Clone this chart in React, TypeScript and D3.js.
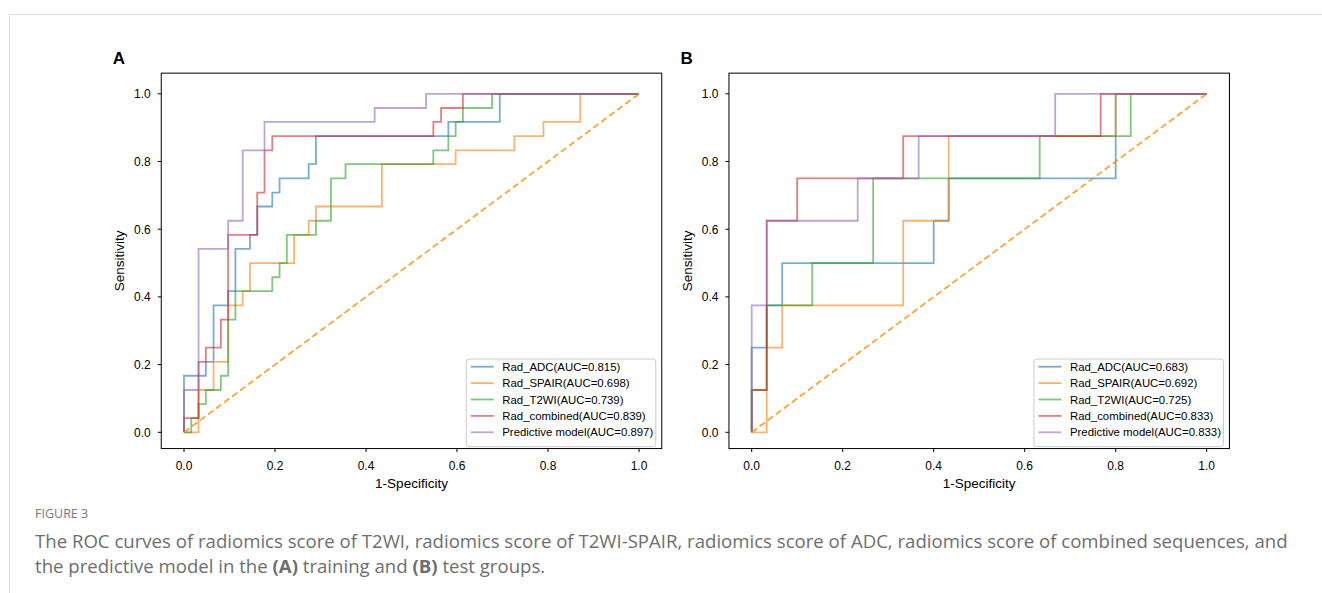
import React from 'react';
import * as d3 from 'd3';

type Pt = [number, number];

const tickValues = [0, 0.2, 0.4, 0.6, 0.8, 1.0];
const tickLabels = ['0.0', '0.2', '0.4', '0.6', '0.8', '1.0'];
const modelNames = ['Rad_ADC', 'Rad_SPAIR', 'Rad_T2WI', 'Rad_combined', 'Predictive model'];
const modelColors = ['#1f77b4', '#ff7f0e', '#2ca02c', '#d62728', '#9467bd'];
const aucTrain = ['0.815', '0.698', '0.739', '0.839', '0.897'];
const aucTest = ['0.683', '0.692', '0.725', '0.833', '0.833'];

// Training group ROC points (fpr, tpr)
const trainADC: Pt[] = [[0,0],[0,0.167],[0.048,0.167],[0.048,0.208],[0.065,0.208],[0.065,0.375],[0.097,0.375],[0.097,0.417],[0.113,0.417],[0.113,0.542],[0.145,0.542],[0.145,0.583],[0.161,0.583],[0.161,0.667],[0.194,0.667],[0.194,0.708],[0.21,0.708],[0.21,0.75],[0.274,0.75],[0.274,0.792],[0.29,0.792],[0.29,0.875],[0.581,0.875],[0.581,0.917],[0.694,0.917],[0.694,1],[1,1]];
const trainSPAIR: Pt[] = [[0,0],[0.032,0],[0.032,0.125],[0.065,0.125],[0.065,0.208],[0.097,0.208],[0.097,0.375],[0.129,0.375],[0.129,0.417],[0.145,0.417],[0.145,0.5],[0.242,0.5],[0.242,0.583],[0.274,0.583],[0.274,0.625],[0.29,0.625],[0.29,0.667],[0.435,0.667],[0.435,0.792],[0.597,0.792],[0.597,0.833],[0.726,0.833],[0.726,0.875],[0.79,0.875],[0.79,0.917],[0.871,0.917],[0.871,1],[1,1]];
const trainT2WI: Pt[] = [[0,0],[0.016,0],[0.016,0.042],[0.032,0.042],[0.032,0.083],[0.048,0.083],[0.048,0.125],[0.081,0.125],[0.081,0.167],[0.097,0.167],[0.097,0.333],[0.113,0.333],[0.113,0.417],[0.194,0.417],[0.194,0.458],[0.21,0.458],[0.21,0.5],[0.226,0.5],[0.226,0.583],[0.29,0.583],[0.29,0.625],[0.323,0.625],[0.323,0.75],[0.355,0.75],[0.355,0.792],[0.548,0.792],[0.548,0.833],[0.581,0.833],[0.581,0.875],[0.597,0.875],[0.597,0.917],[0.613,0.917],[0.613,0.958],[0.677,0.958],[0.677,1],[1,1]];
const trainCombined: Pt[] = [[0,0],[0,0.042],[0.032,0.042],[0.032,0.208],[0.048,0.208],[0.048,0.25],[0.081,0.25],[0.081,0.333],[0.097,0.333],[0.097,0.583],[0.161,0.583],[0.161,0.708],[0.177,0.708],[0.177,0.833],[0.194,0.833],[0.194,0.875],[0.548,0.875],[0.548,0.917],[0.565,0.917],[0.565,0.958],[0.613,0.958],[0.613,1],[1,1]];
const trainPredictive: Pt[] = [[0,0],[0,0.125],[0.032,0.125],[0.032,0.542],[0.097,0.542],[0.097,0.625],[0.129,0.625],[0.129,0.833],[0.177,0.833],[0.177,0.917],[0.419,0.917],[0.419,0.958],[0.532,0.958],[0.532,1],[1,1]];

// Test group ROC points (fpr, tpr)
const testADC: Pt[] = [[0,0],[0,0.25],[0.033,0.25],[0.033,0.375],[0.067,0.375],[0.067,0.5],[0.4,0.5],[0.4,0.625],[0.433,0.625],[0.433,0.75],[0.8,0.75],[0.8,1],[1,1]];
const testSPAIR: Pt[] = [[0,0],[0.033,0],[0.033,0.25],[0.067,0.25],[0.067,0.375],[0.333,0.375],[0.333,0.625],[0.433,0.625],[0.433,0.875],[0.8,0.875],[0.8,1],[1,1]];
const testT2WI: Pt[] = [[0,0],[0,0.125],[0.033,0.125],[0.033,0.375],[0.133,0.375],[0.133,0.5],[0.267,0.5],[0.267,0.75],[0.633,0.75],[0.633,0.875],[0.833,0.875],[0.833,1],[1,1]];
const testCombined: Pt[] = [[0,0],[0,0.125],[0.033,0.125],[0.033,0.625],[0.1,0.625],[0.1,0.75],[0.333,0.75],[0.333,0.875],[0.767,0.875],[0.767,1],[1,1]];
const testPredictive: Pt[] = [[0,0],[0,0.375],[0.033,0.375],[0.033,0.625],[0.233,0.625],[0.233,0.75],[0.367,0.75],[0.367,0.875],[0.667,0.875],[0.667,1],[1,1]];

const chanceLine: Pt[] = [[0, 0], [1, 1]];

const FONT = '"Liberation Sans", Arial, Helvetica, sans-serif';

interface PanelProps {
  letter: string;
  x0: number; // pixel of fpr=0
  curves: Pt[][];
  aucs: string[];
}

const Panel: React.FC<PanelProps> = ({ letter, x0, curves, aucs }) => {
  const x = d3.scaleLinear().domain([0, 1]).range([x0, x0 + 455]);
  const y = d3.scaleLinear().domain([0, 1]).range([432.3, 93.8]);
  const line = d3.line<Pt>().x(d => x(d[0])).y(d => y(d[1]));
  const fl = x(-0.05), fr = x(1.05), ft = y(1.061), fb = y(-0.048);
  const boxW = 189.5, boxH = 87.7;
  const bx = fr - 6 - boxW, by = 359;
  return (
    <g>
      <text x={fl - 48.5} y={63.5} fontFamily={FONT} fontWeight="bold" fontSize={17}>{letter}</text>
      {curves.map((c, i) => (
        <path key={i} d={line(c) || ''} fill="none" stroke={modelColors[i]} strokeOpacity={0.6} strokeWidth={1.8} />
      ))}
      <path d={line(chanceLine) || ''} fill="none" stroke="#ff8c00" strokeOpacity={0.8} strokeWidth={1.8} strokeDasharray="6.5,3.5" />
      <rect x={fl} y={ft} width={fr - fl} height={fb - ft} fill="none" stroke="#000" strokeWidth={1} />
      {tickValues.map((t, i) => (
        <g key={'x' + i}>
          <line x1={x(t)} x2={x(t)} y1={fb} y2={fb + 3.5} stroke="#000" strokeWidth={1} />
          <text x={x(t)} y={469.5} textAnchor="middle" fontFamily={FONT} fontSize={12}>{tickLabels[i]}</text>
        </g>
      ))}
      {tickValues.map((t, i) => (
        <g key={'y' + i}>
          <line x1={fl - 3.5} x2={fl} y1={y(t)} y2={y(t)} stroke="#000" strokeWidth={1} />
          <text x={fl - 10.5} y={y(t) + 4.3} textAnchor="end" fontFamily={FONT} fontSize={12}>{tickLabels[i]}</text>
        </g>
      ))}
      <text x={(fl + fr) / 2} y={487.5} textAnchor="middle" fontFamily={FONT} fontSize={13.5}>1-Specificity</text>
      <text transform={`translate(${fl - 37},${(ft + fb) / 2}) rotate(-90)`} textAnchor="middle" fontFamily={FONT} fontSize={13.5}>Sensitivity</text>
      <rect x={bx} y={by} width={boxW} height={boxH} rx={3} ry={3} fill="#fff" fillOpacity={0.8} stroke="#cccccc" strokeWidth={1} />
      {modelNames.map((n, i) => {
        const cy = 366.7 + i * 16.4;
        return (
          <g key={'l' + i}>
            <line x1={bx + 4.5} x2={bx + 27.5} y1={cy} y2={cy} stroke={modelColors[i]} strokeOpacity={0.6} strokeWidth={1.8} />
            <text x={bx + 36} y={cy + 4.1} fontFamily={FONT} fontSize={11.4}>{`${n}(AUC=${aucs[i]})`}</text>
          </g>
        );
      })}
    </g>
  );
};

const CAP_FONT = '"Open Sans", "Noto Sans", sans-serif';

export default function App() {
  return (
    <svg width={1322} height={593} style={{ position: 'absolute', left: 0, top: 0, display: 'block', background: '#fff' }}>
      <rect x={0} y={0} width={1322} height={593} fill="#fff" />
      <line x1={9.5} x2={1322} y1={14.5} y2={14.5} stroke="#dedede" strokeWidth={1} />
      <line x1={9.5} x2={9.5} y1={14.5} y2={593} stroke="#dedede" strokeWidth={1} />
      <Panel letter="A" x0={184} curves={[trainADC, trainSPAIR, trainT2WI, trainCombined, trainPredictive]} aucs={aucTrain} />
      <Panel letter="B" x0={751.7} curves={[testADC, testSPAIR, testT2WI, testCombined, testPredictive]} aucs={aucTest} />
      <text x={35} y={518} fontFamily={CAP_FONT} fontSize={12.5} fill="#7a7a7a">FIGURE 3</text>
      <text x={35} y={548} fontFamily={CAP_FONT} fontSize={18.6} fill="#6e6e6e">
        The ROC curves of radiomics score of T2WI, radiomics score of T2WI-SPAIR, radiomics score of ADC, radiomics score of combined sequences, and
      </text>
      <text x={35} y={573} fontFamily={CAP_FONT} fontSize={18.6} fill="#6e6e6e">
        the predictive model in the <tspan fontWeight="bold">(A)</tspan> training and <tspan fontWeight="bold">(B)</tspan> test groups.
      </text>
    </svg>
  );
}
